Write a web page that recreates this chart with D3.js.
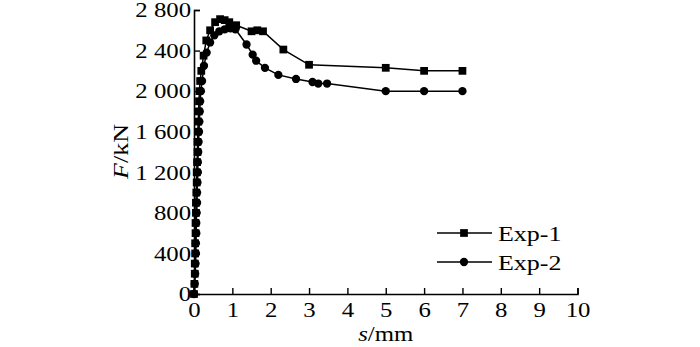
<!DOCTYPE html>
<html>
<head>
<meta charset="utf-8">
<script src="https://cdn.jsdelivr.net/npm/d3@7"></script>
<style>
  html, body { margin: 0; padding: 0; background: #fff; }
  svg { display: block; }
  text { font-family: "Liberation Serif", "DejaVu Serif", serif; fill: #000; }
</style>
</head>
<body>
<svg id="chart" width="700" height="347"></svg>
<script>
// Load–slip curves, displacement s (mm) vs force F (kN)
const exp1S = [0, 0.01, 0.02, 0.02, 0.03, 0.03, 0.04, 0.04, 0.05, 0.05, 0.06, 0.07, 0.07, 0.08, 0.09, 0.09, 0.10, 0.11, 0.12, 0.13, 0.14, 0.16, 0.19, 0.25, 0.32, 0.42, 0.55, 0.68, 0.80, 0.92, 1.10, 1.50, 1.65, 1.80, 2.33, 3.00, 5.00, 6.00, 7.00];
const exp1F = [0, 100, 200, 300, 400, 500, 600, 700, 800, 900, 1000, 1100, 1200, 1300, 1400, 1500, 1600, 1700, 1800, 1900, 2000, 2100, 2200, 2350, 2500, 2600, 2680, 2710, 2700, 2680, 2650, 2590, 2600, 2590, 2410, 2260, 2230, 2200, 2200];

const exp2S = [0, 0.02, 0.03, 0.04, 0.05, 0.05, 0.06, 0.06, 0.07, 0.08, 0.08, 0.09, 0.10, 0.10, 0.11, 0.12, 0.13, 0.14, 0.15, 0.16, 0.18, 0.21, 0.26, 0.33, 0.42, 0.53, 0.66, 0.80, 0.95, 1.08, 1.37, 1.53, 1.62, 1.85, 2.20, 2.66, 3.09, 3.24, 3.47, 5.00, 6.00, 7.00];
const exp2F = [0, 100, 200, 300, 400, 500, 600, 700, 800, 900, 1000, 1100, 1200, 1300, 1400, 1500, 1600, 1700, 1800, 1900, 2000, 2100, 2250, 2380, 2480, 2550, 2590, 2610, 2620, 2610, 2460, 2360, 2300, 2230, 2160, 2120, 2090, 2075, 2075, 2000, 2000, 2000];

const xTicks = [0, 1, 2, 3, 4, 5, 6, 7, 8, 9, 10];
const yTicks = [0, 400, 800, 1200, 1600, 2000, 2400, 2800];
const seriesNames = ["Exp-1", "Exp-2"];

const SX = 1.18;   // horizontal stretch of the lettering
const FS = 21;

const svg = d3.select("#chart");
const x = d3.scaleLinear().domain([0, 10]).range([194, 577.5]);
const y = d3.scaleLinear().domain([0, 2800]).range([294, 10]);

// Thousands separated by a space: 2 800
const fmtY = d => d >= 1000 ? Math.floor(d / 1000) + " " + String(d % 1000).padStart(3, "0") : String(d);

const xAxis = svg.append("g")
  .attr("transform", `translate(0,${y(0)})`)
  .call(d3.axisBottom(x).tickValues(xTicks).tickSize(-6).tickPadding(8).tickFormat(d3.format("d")));
const yAxis = svg.append("g")
  .attr("transform", `translate(${x(0)},0)`)
  .call(d3.axisLeft(y).tickValues(yTicks).tickSize(-6).tickPadding(2.5).tickFormat(fmtY));

[xAxis, yAxis].forEach(g => {
  g.select(".domain").attr("stroke", "#000").attr("stroke-width", 1.6);
  g.selectAll(".tick line").attr("stroke", "#000").attr("stroke-width", 1.4);
  g.selectAll(".tick text").attr("font-size", FS).attr("font-family", "Liberation Serif")
    .attr("transform", `scale(${SX},1)`);
});

// Stretched text helper
function label(px, py, html, opts = {}) {
  const g = svg.append("g").attr("transform", `translate(${px},${py}) ${opts.rotate ? "rotate(-90)" : ""} scale(${SX},1)`);
  return g.append("text").attr("text-anchor", opts.anchor || "start")
    .attr("font-size", opts.size || FS).html(html);
}

// Axis titles
label(x(5), 340.5, '<tspan font-style="italic">s</tspan>/mm', { anchor: "middle", size: 21 });
label(128, 151.5, '<tspan font-style="italic">F</tspan>/kN', { anchor: "middle", size: 22, rotate: true });

const line = d3.line().x(d => x(d[0])).y(d => y(d[1]));
const sq = d3.symbol().type(d3.symbolSquare).size(60);
const ci = d3.symbol().type(d3.symbolCircle).size(54);

function drawSeries(sArr, fArr, sym) {
  const pts = sArr.map((s, i) => [s, fArr[i]]);
  const g = svg.append("g");
  g.append("path").datum(pts).attr("d", line)
    .attr("fill", "none").attr("stroke", "#000").attr("stroke-width", 1.5);
  g.selectAll("path.m").data(pts).join("path").attr("class", "m")
    .attr("d", sym).attr("transform", d => `translate(${x(d[0])},${y(d[1])})`)
    .attr("fill", "#000");
}
drawSeries(exp1S, exp1F, sq);
drawSeries(exp2S, exp2F, ci);

// Legend
const legSyms = [sq, ci];
seriesNames.forEach((name, i) => {
  const ly = 233 + i * 29;
  svg.append("line").attr("x1", 437).attr("x2", 492).attr("y1", ly).attr("y2", ly)
    .attr("stroke", "#000").attr("stroke-width", 1.5);
  svg.append("path").attr("d", legSyms[i]).attr("transform", `translate(464,${ly})`).attr("fill", "#000");
  label(498, ly + 8, name, { size: 22 });
});
</script>
</body>
</html>
